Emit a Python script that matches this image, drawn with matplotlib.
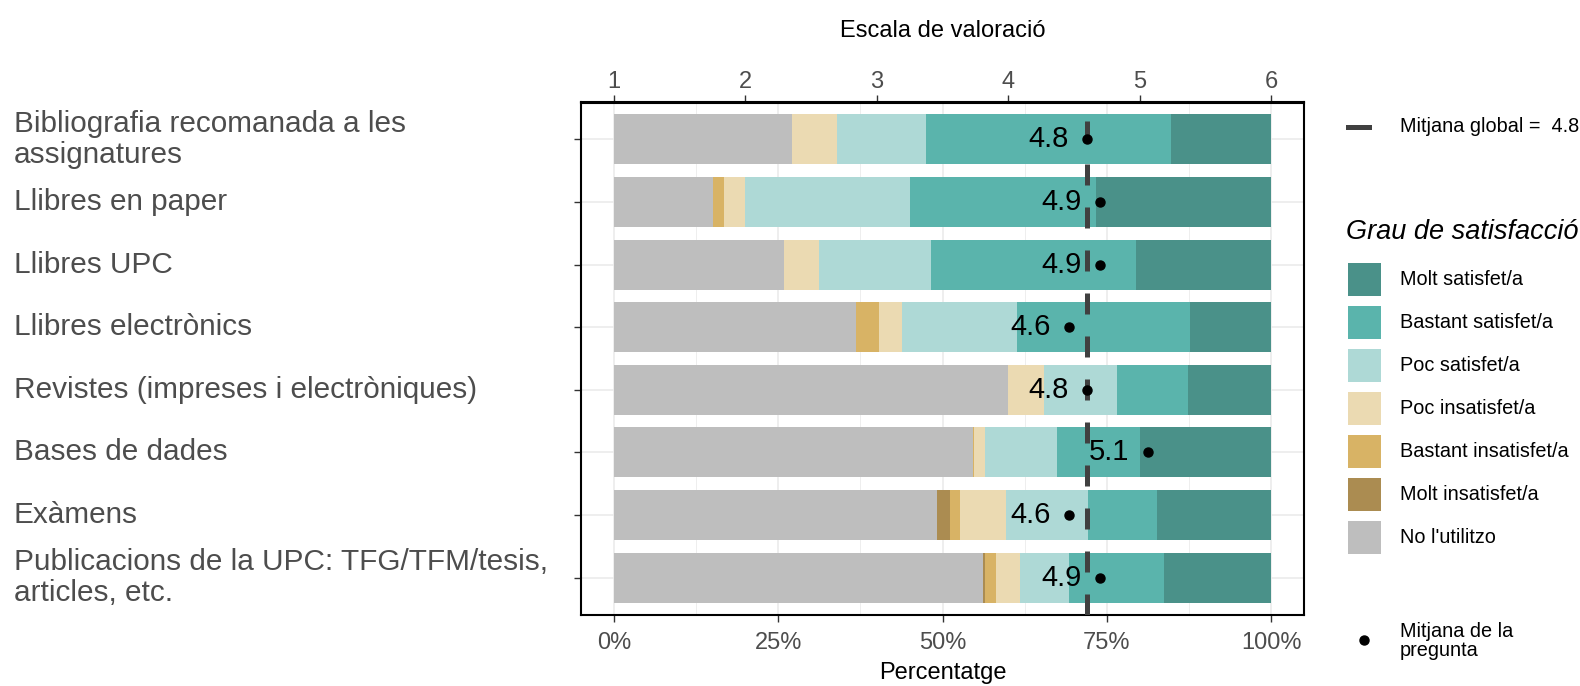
import numpy as np
import matplotlib.pyplot as plt
from matplotlib import transforms
from matplotlib.patches import Rectangle
from matplotlib.lines import Line2D
from matplotlib.ticker import PercentFormatter

plt.rcParams['font.family'] = ['Liberation Sans', 'DejaVu Sans']

# ---------------- data ----------------
preguntes = ['Bibliografia recomanada a les\nassignatures',
             'Llibres en paper',
             'Llibres UPC',
             'Llibres electrònics',
             'Revistes (impreses i electròniques)',
             'Bases de dades',
             'Exàmens',
             'Publicacions de la UPC: TFG/TFM/tesis,\narticles, etc.']

nivells = ["No l'utilitzo", 'Molt insatisfet/a', 'Bastant insatisfet/a',
           'Poc insatisfet/a', 'Poc satisfet/a', 'Bastant satisfet/a',
           'Molt satisfet/a']

# percentatges per nivell (mateix ordre que preguntes)
no_utilitzo   = [27.1, 15.0, 25.8, 36.8, 60.0, 54.6, 49.2, 56.2]
molt_insat    = [0.0, 0.0, 0.0, 0.0, 0.0, 0.0, 1.9, 0.2]
bastant_insat = [0.0, 1.7, 0.0, 3.5, 0.0, 0.2, 1.6, 1.8]
poc_insat     = [6.9, 3.2, 5.4, 3.5, 5.5, 1.6, 7.0, 3.6]
poc_sat       = [13.5, 25.2, 17.0, 17.6, 11.0, 11.0, 12.4, 7.4]
bastant_sat   = [37.2, 28.2, 31.2, 26.3, 10.8, 12.6, 10.5, 14.5]
molt_sat      = [15.3, 26.7, 20.6, 12.3, 12.7, 20.0, 17.4, 16.3]

# posicio del punt de mitjana a l'escala 1-6 i etiqueta
mitjana_pos = [4.60, 4.70, 4.70, 4.46, 4.60, 5.06, 4.46, 4.70]
mitjana_txt = ['4.8', '4.9', '4.9', '4.6', '4.8', '5.1', '4.6', '4.9']
mitjana_global_pos = 4.60
mitjana_global_txt = '4.8'

colors = ['#BEBEBE', '#AB8C51', '#D8B365', '#EBDAB2', '#AED9D6', '#5AB4AC', '#4A9189']

# ---------------- plot ----------------
W, H = 1580, 686
fig = plt.figure(figsize=(W/100, H/100), dpi=100)
ax = fig.add_axes([581.2/W, 1-614.5/H, (1303.9-581.2)/W, (614.5-102.5)/H])

y = np.arange(1, len(preguntes)+1)
series = [no_utilitzo, molt_insat, bastant_insat, poc_insat, poc_sat, bastant_sat, molt_sat]
left = np.zeros(len(preguntes))
for vals, col in zip(series, colors):
    v = np.array(vals)/100.
    ax.barh(y, v, left=left, height=0.8, color=col, lw=0, zorder=2)
    left += v

to_frac = lambda s: (np.array(s)-1.)/5.

ax.axvline(to_frac(mitjana_global_pos), color='#404040', lw=3.6, dashes=(4.2, 4.4), zorder=3)
ax.plot(to_frac(mitjana_pos), y, 'o', color='black', ms=6.5, zorder=4)
for xi, yi, t in zip(to_frac(mitjana_pos), y, mitjana_txt):
    ax.text(xi-0.028, yi, t, ha='right', va='center', fontsize=21, color='black', zorder=5)

ax.set_xlim(-0.05, 1.05)
ax.set_ylim(8.59, 0.41)
ax.set_xticks([0, 0.25, 0.5, 0.75, 1])
ax.set_xticks([0.125, 0.375, 0.625, 0.875], minor=True)
ax.xaxis.set_major_formatter(PercentFormatter(1.0, decimals=0))
ax.set_yticks(y)
ax.set_yticklabels([])
ax.grid(which='major', color='#EBEBEB', lw=1.2, zorder=0)
ax.grid(which='minor', axis='x', color='#EBEBEB', lw=0.6, zorder=0)
ax.set_axisbelow(True)
for s in ax.spines.values():
    s.set_linewidth(1.5)
    s.set_color('black')
ax.tick_params(axis='both', which='major', length=5, width=1, color='#333333',
               labelsize=17, labelcolor='#4D4D4D', pad=7.5)
ax.tick_params(which='minor', length=0)
ax.set_xlabel('Percentatge', fontsize=17, labelpad=6)

sec = ax.secondary_xaxis('top', functions=(lambda p: 1+5*p, lambda s: (s-1)/5))
sec.set_xticks([1, 2, 3, 4, 5, 6])
sec.tick_params(length=5, width=1, color='#333333', labelsize=17, labelcolor='#4D4D4D', pad=2)
sec.spines['top'].set_linewidth(1.5)
sec.set_xlabel('Escala de valoració', fontsize=17, labelpad=24)

# etiquetes de les preguntes, alineades a l'esquerra
tr = transforms.blended_transform_factory(fig.transFigure, ax.transData)
for yi, lab in zip(y, preguntes):
    ax.text(14/W, yi, lab, transform=tr, ha='left', va='center', fontsize=21.4,
            color='#4D4D4D', linespacing=1.1)

# ---------------- llegenda ----------------
fx = lambda px: px/W
fy = lambda py: 1-py/H
fig.add_artist(Line2D([fx(1348), fx(1369)], [fy(127), fy(127)], color='#404040', lw=3.6))
fig.text(fx(1400), fy(127), 'Mitjana global =  ' + mitjana_global_txt, fontsize=14.3,
         va='center', ha='left')

fig.text(fx(1346), fy(232), 'Grau de satisfacció', fontsize=19.5, style='italic',
         va='center', ha='left')
for i, (lab, col) in enumerate(zip(nivells[::-1], colors[::-1])):
    top = 263 + 43*i
    fig.add_artist(Rectangle((fx(1348), fy(top+33)), 33/W, 33/H, color=col,
                             transform=fig.transFigure, lw=0))
    fig.text(fx(1400), fy(top+16.5), lab, fontsize=14.3, va='center', ha='left')

fig.add_artist(Line2D([fx(1364)], [fy(640)], marker='o', color='black', ms=6.5))
fig.text(fx(1400), fy(641), 'Mitjana de la\npregunta', fontsize=14.3, va='center',
         ha='left', linespacing=1.0)

fig.savefig('out.png', dpi=100)
